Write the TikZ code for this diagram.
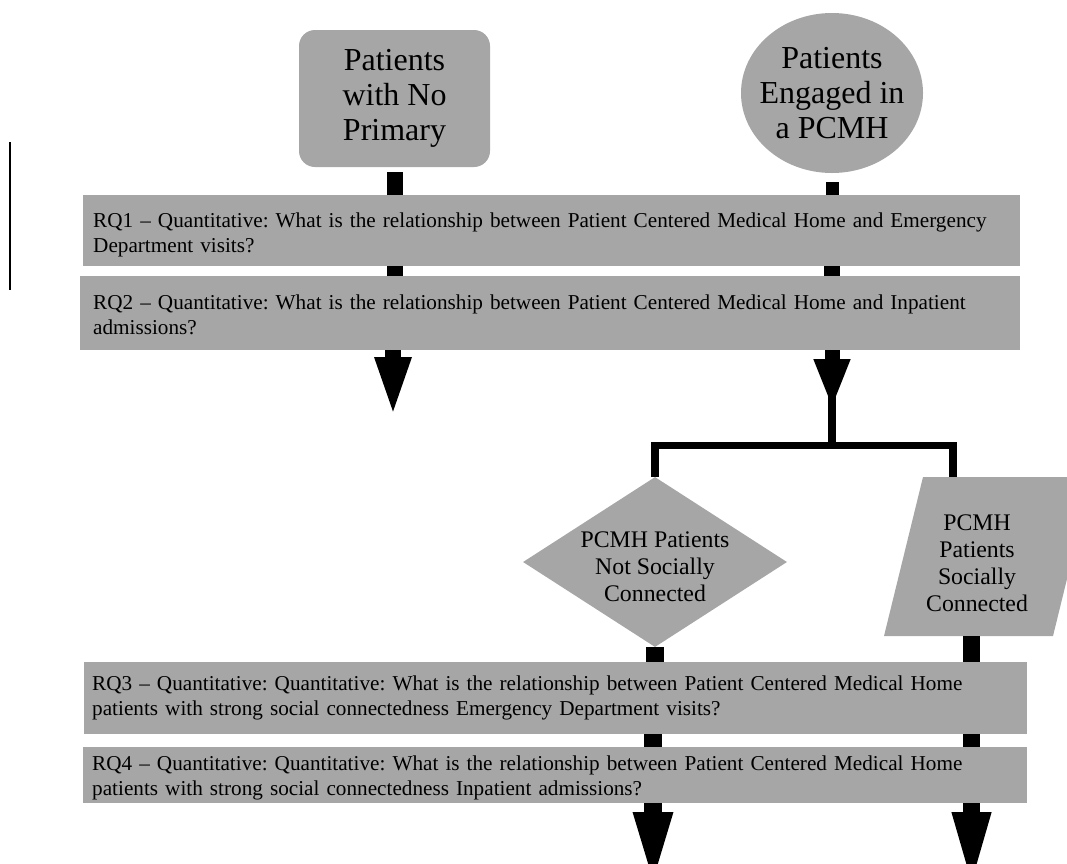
\documentclass[tikz,border=0pt]{standalone}
\usepackage{fontspec}
\setmainfont{Liberation Serif}
\usetikzlibrary{shapes.geometric,arrows.meta}

\definecolor{boxgray}{RGB}{166,166,166}

\tikzset{
  qbox/.style={fill=boxgray, anchor=north west, align=left, inner xsep=10pt, inner ysep=0pt,
    font=\fontsize{21.2}{25}\selectfont},
  startbox/.style={fill=boxgray, align=center, font=\fontsize{32}{35}\selectfont},
  grouptext/.style={align=center, inner sep=0pt, font=\fontsize{23.8}{27}\selectfont},
  linkbar/.style={line width=16pt},
  branchline/.style={line width=7.5pt}
}

\begin{document}
\frenchspacing
\begin{tikzpicture}[x=1pt,y=-1pt]

            \useasboundingbox (0,0) rectangle (1067,863);

            \draw[line width=2pt] (10,142) -- (10,290);

            % starting groups
            \node[startbox, rounded corners=16pt, minimum width=191pt, minimum height=137pt,
                  inner sep=0pt] (noprim) at (394.5,98.5) {Patients\\with No\\Primary};
            \node[startbox, ellipse, minimum width=182pt, minimum height=160pt,
                  inner sep=-12pt] (engaged) at (832,93) {Patients\\Engaged in\\a PCMH};

            % research questions
            \node[qbox, minimum width=937pt, text width=917pt, text height=32pt, text depth=39pt] (rq1) at (83,195)
                {RQ1 -- Quantitative: What is the relationship between Patient Centered Medical Home and Emergency\\Department visits?};
            \node[qbox, inner xsep=13pt, minimum width=940pt, text width=914pt, text height=33pt, text depth=41pt] (rq2) at (80,276)
                {RQ2 -- Quantitative: What is the relationship between Patient Centered Medical Home and Inpatient\\admissions?};

            % subgroups
            \node[fill=boxgray, diamond, minimum width=264pt, minimum height=170pt, inner sep=0pt,
                  label={[grouptext, yshift=-5pt]center:{PCMH Patients\\Not Socially\\Connected}}] (notconn) at (655,562) {};
            \fill[boxgray] (884,636) -- (923,477) -- (1092,477) -- (1053,636) -- cycle;
            \node[grouptext] (socconn) at (977,563) {PCMH\\Patients\\Socially\\Connected};
            \coordinate (soctop) at (953,477);
            \coordinate (socbot) at (971.5,636);

            \node[qbox, inner xsep=8pt, minimum width=943pt, text width=927pt, text height=28pt, text depth=44pt] (rq3) at (84,662)
                {RQ3 -- Quantitative: Quantitative: What is the relationship between Patient Centered Medical Home\\patients with strong social connectedness Emergency Department visits?};
            \node[qbox, inner xsep=9pt, minimum width=944pt, text width=926pt, text height=23pt, text depth=33pt] (rq4) at (83,747)
                {RQ4 -- Quantitative: Quantitative: What is the relationship between Patient Centered Medical Home\\patients with strong social connectedness Inpatient admissions?};

            \coordinate (endL) at (393,419);
            \coordinate (headR) at (832,409);
            \coordinate (split) at (832,445.5);
            \coordinate (endBL) at (653,892);
            \coordinate (endBR) at (971.5,892);

            % bars between boxes
            \draw[linkbar] ([yshift=-5pt]noprim.south) -- (noprim.south |- rq1.north);
            \draw[linkbar, line width=13pt] ([yshift=-9pt]engaged.south) -- (engaged.south |- rq1.north);
            \draw[linkbar] (rq1.south -| noprim.south) -- (rq2.north -| noprim.south);
            \draw[linkbar] (rq1.south -| engaged.south) -- (rq2.north -| engaged.south);

            \draw[linkbar, -{Triangle[width=32pt,length=62pt]}] (rq2.south -| endL) -- (endL);
            \draw[line width=8pt] (rq2.south -| split) -- (split);
            \draw[linkbar, line width=15pt, -{Triangle[width=33pt,length=50pt]}] (rq2.south -| headR) -- (headR);

            \draw[branchline] (notconn.north) |- (split) -| (soctop);

            \draw[linkbar, line width=18pt] (notconn.south) -- (notconn.south |- rq3.north);
            \draw[linkbar, line width=17pt] (socbot) -- (rq3.north -| socbot);
            \draw[linkbar, line width=18pt] (rq3.south -| endBL) -- (rq4.north -| endBL);
            \draw[linkbar, line width=17pt] (rq3.south -| endBR) -- (rq4.north -| endBR);

            \draw[linkbar, line width=18pt, -{Triangle[width=34pt,length=80pt]}] (rq4.south -| endBL) -- (endBL);
            \draw[linkbar, line width=17pt, -{Triangle[width=34pt,length=80pt]}] (rq4.south -| endBR) -- (endBR);

\end{tikzpicture}
\end{document}
